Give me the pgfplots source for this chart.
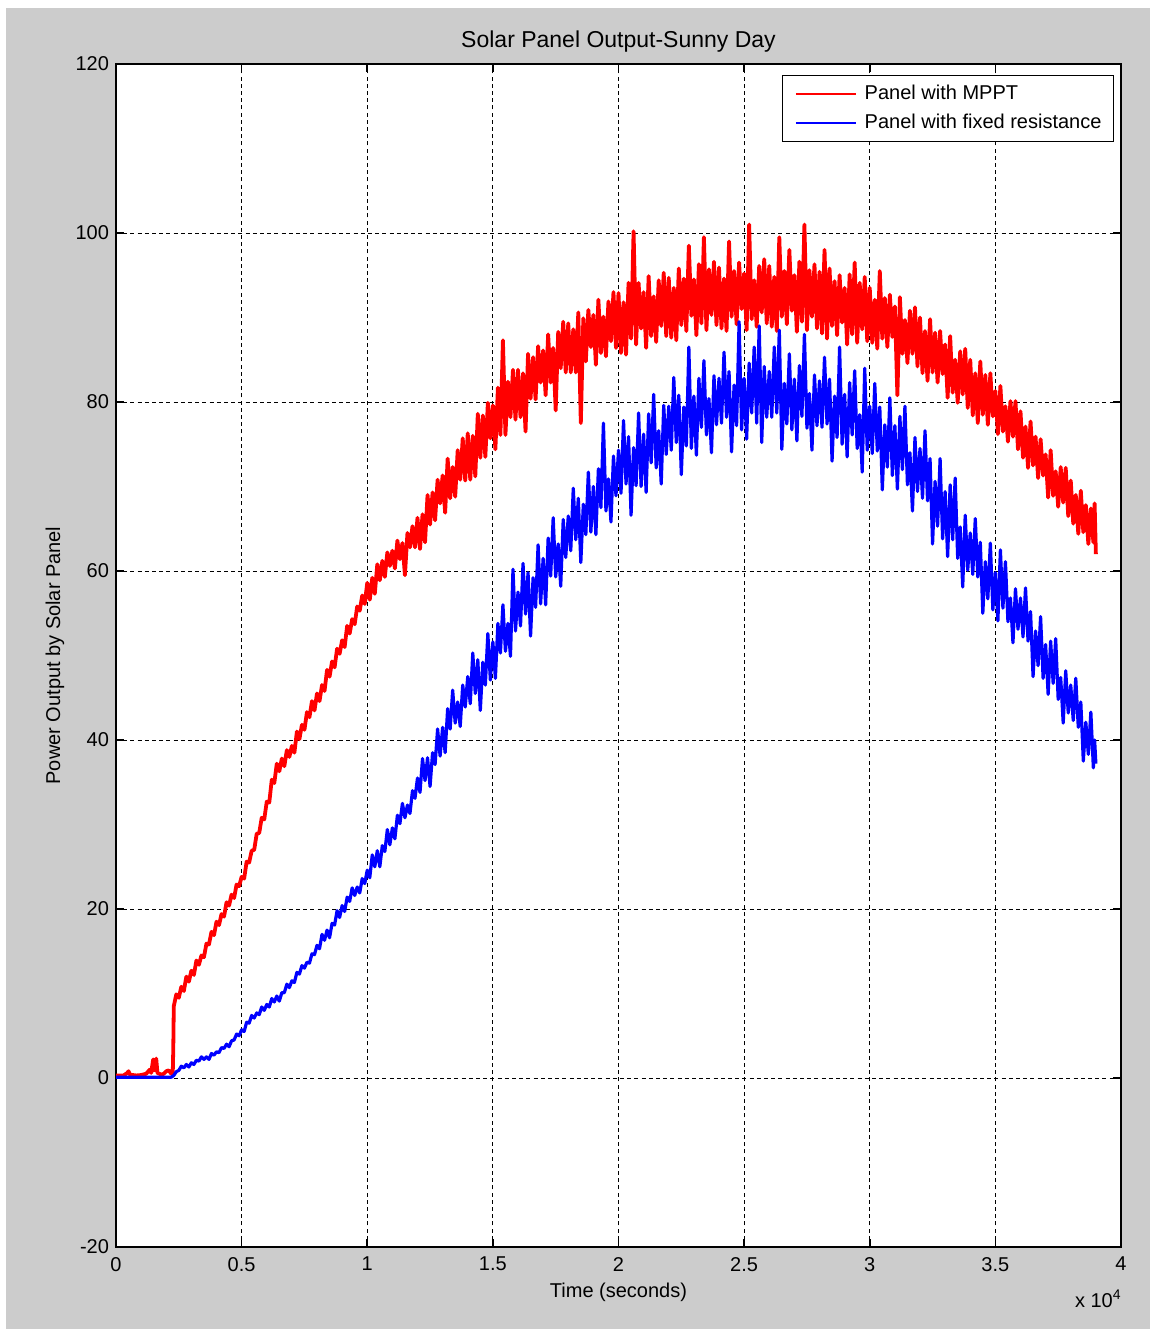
\documentclass[border=0pt]{standalone}
\usepackage{pgfplots}
\pgfplotsset{compat=1.18}
\usepackage{fontspec}
\setmainfont{Liberation Sans}
\definecolor{figgray}{RGB}{204,204,204}
\begin{document}
\begin{tikzpicture}
% figure window background
\fill[white] (0,0) rectangle (575pt,664.5pt);
\fill[figgray] (3pt,0) rectangle (575pt,660.5pt);
\begin{axis}[
  name=ax,
  at={(58pt,41pt)}, anchor=south west,
  scale only axis, width=502.5pt, height=591.5pt,
  xmin=0, xmax=40000, ymin=-20, ymax=120,
  xtick={0,5000,...,40000},
  xticklabels={0,0.5,1,1.5,2,2.5,3,3.5,4},
  scaled x ticks=false,
  ytick={-20,0,...,120},
  tick align=inside, tick pos=both, major tick length=4pt,
  grid=major,
  major grid style={black, line width=0.45pt, dash pattern=on 2pt off 1.6pt},
  axis line style={black, line width=0.8pt},
  every tick/.style={black, line width=0.8pt},
  axis background/.style={fill=white},
  /pgf/number format/assume math mode=true,
  tick label style={font=\fontsize{10}{12}\selectfont},
  xticklabel style={yshift=-1.5pt},
  label style={font=\fontsize{10}{12}\selectfont},
  title={Solar Panel Output-Sunny Day},
  every axis title shift=0pt,
  title style={font=\fontsize{11.5}{13}\selectfont, at={(0.5,1)}, anchor=base, yshift=8pt, inner sep=0pt},
  xlabel={Time (seconds)},
  xlabel style={at={(axis description cs:0.5,0)}, anchor=base, yshift=-25pt, inner sep=0pt},
  ylabel={Power Output by Solar Panel},
  ylabel style={at={(axis description cs:-0.051,0.5)}, anchor=south, inner sep=0pt},
  legend style={at={(1,1)}, anchor=north east, xshift=-3.5pt, yshift=-5.5pt,
    draw=black, line width=0.5pt, fill=white,
    font=\fontsize{10}{12}\selectfont, inner xsep=4pt, inner ysep=3pt,
    row sep=1.5pt, cells={anchor=west}},
  legend image code/.code={\path (-1.5pt,0pt) (31.5pt,0pt);
    \draw[#1, line width=1pt] (0pt,0pt) -- (30pt,0pt);},
  legend cell align=left,
]
% Panel with MPPT
\addplot[red, line width=1.9pt, line join=round] coordinates {
(0,0.3)(300,0.3)(450,0.6)(500,0.8)(550,0.4)(800,0.3)(1000,0.35)(1200,0.5)(1350,1.0)(1400,0.6)
(1480,2.2)(1520,0.9)(1560,1.0)(1600,2.3)(1650,0.6)(1800,0.4)(1900,0.5)(2000,0.8)(2100,0.9)(2200,0.5)
(2260,0.7)(2280,3.5)(2300,8.5)(2350,9.2)
(2400,9.9)(2500,9.5)(2600,10.8)(2700,10.3)(2800,12.0)(2900,11.4)
(3000,12.7)(3100,12.2)(3200,13.9)(3300,13.4)(3400,14.5)(3500,14.3)(3600,15.9)(3700,15.8)(3800,17.3)(3900,16.9)
(4000,18.5)(4100,18.1)(4200,19.4)(4300,19.1)(4400,20.8)(4500,20.4)(4600,21.7)(4700,21.3)(4800,22.9)(4900,22.7)
(5000,23.8)(5100,23.6)(5200,25.6)(5300,25.5)(5400,26.9)(5500,27.0)(5600,28.9)(5700,29.0)(5800,30.8)(5900,30.6)
(6000,32.7)(6100,32.6)(6200,35.3)(6300,34.9)(6400,37.2)(6500,36.3)(6600,37.8)(6700,36.9)(6800,38.8)(6900,38.0)
(7000,39.3)(7100,38.5)(7200,41.0)(7300,40.1)(7400,41.8)(7500,41.2)(7600,43.3)(7700,42.7)(7800,44.6)(7900,43.5)
(8000,45.5)(8100,44.6)(8200,46.5)(8300,45.8)(8400,48.3)(8500,47.5)(8600,49.3)(8700,48.6)(8800,50.8)(8900,50.2)
(9000,51.8)(9100,51.0)(9200,53.5)(9300,52.6)(9400,54.3)(9500,53.7)(9600,55.8)(9700,55.3)(9800,57.1)(9900,56.1)
(10000,58.6)(10100,56.6)(10200,59.2)(10300,57.3)(10400,60.8)(10500,58.9)(10600,61.2)(10700,59.3)(10800,62.2)(10900,60.6)
(11000,62.4)(11100,60.3)(11200,63.6)(11300,61.4)(11400,63.3)(11500,59.5)(11600,64.5)(11700,62.8)(11800,65.3)(11900,62.8)
(12000,66.3)(12100,62.6)(12200,66.7)(12300,63.4)(12400,69.0)(12500,65.5)(12600,69.3)(12700,66.0)(12800,70.8)(12900,68.0)
(13000,71.3)(13100,66.9)(13200,73.3)(13300,68.6)(13400,72.3)(13500,68.8)(13600,74.3)(13700,70.8)(13800,75.7)(13900,70.7)
(14000,76.3)(14100,70.8)(14200,76.0)(14300,71.2)(14400,78.6)(14500,73.4)(14600,78.4)(14700,73.5)(14800,79.9)(14900,75.7)
(15000,79.6)(15100,74.4)(15200,81.7)(15300,76.1)(15400,87.3)(15500,76.1)(15600,82.4)(15700,78.2)(15800,83.8)(15900,77.9)
(16000,83.8)(16100,78.2)(16200,83.4)(16300,76.5)(16400,85.7)(16500,80.4)(16600,85.3)(16700,80.3)(16800,86.6)(16900,82.3)
(17000,86.1)(17100,80.8)(17200,88.0)(17300,82.3)(17400,86.4)(17500,79.0)(17600,88.3)(17700,84.0)(17800,89.5)(17900,83.5)
(18000,89.3)(18100,83.5)(18200,88.6)(18300,83.5)(18400,90.6)(18500,77.5)(18600,89.9)(18700,84.8)(18800,90.9)(18900,86.5)
(19000,90.3)(19100,84.4)(19200,92.1)(19300,85.8)(19400,90.1)(19500,85.4)(19600,91.9)(19700,87.2)(19800,93.0)(19900,86.4)
(20000,92.9)(20100,85.8)(20200,91.8)(20300,85.6)(20400,94.1)(20500,87.5)(20600,100.2)(20700,86.8)(20800,94.1)(20900,88.7)
(21000,93.0)(21100,86.4)(21200,94.9)(21300,87.8)(21400,92.5)(21500,87.1)(21600,94.4)(21700,89.0)(21800,95.3)(21900,87.8)
(22000,94.7)(22100,87.6)(22200,93.5)(22300,87.3)(22400,95.8)(22500,89.1)(22600,94.6)(22700,88.4)(22800,98.5)(22900,90.2)
(23000,94.5)(23100,87.9)(23200,96.3)(23300,89.3)(23400,99.5)(23500,88.5)(23600,95.7)(23700,90.3)(23800,96.6)(23900,89.1)
(24000,95.9)(24100,88.7)(24200,94.6)(24300,88.4)(24400,99.0)(24500,90.1)(24600,95.5)(24700,89.2)(24800,96.5)(24900,91.0)
(25000,95.2)(25100,88.5)(25200,101.0)(25300,89.8)(25400,94.4)(25500,88.9)(25600,96.1)(25700,90.6)(25800,96.9)(25900,89.3)
(26000,96.1)(26100,88.9)(26200,94.8)(26300,88.4)(26400,99.5)(26500,90.1)(26600,95.5)(26700,89.2)(26800,98.0)(26900,90.8)
(27000,95.0)(27100,88.3)(27200,96.6)(27300,89.5)(27400,101.0)(27500,88.5)(27600,95.6)(27700,90.1)(27800,96.3)(27900,88.7)
(28000,95.4)(28100,88.1)(28200,98.0)(28300,87.5)(28400,95.8)(28500,89.0)(28600,94.3)(28700,87.9)(28800,95.0)(28900,89.4)
(29000,93.5)(29100,86.8)(29200,95.1)(29300,88.0)(29400,96.5)(29500,87.0)(29600,94.1)(29700,88.6)(29800,94.8)(29900,87.2)
(30000,93.5)(30100,87.0)(30200,92.1)(30300,86.3)(30400,95.5)(30500,87.5)(30600,92.3)(30700,86.5)(30800,92.7)(30900,87.7)
(31000,91.3)(31100,80.8)(31200,92.4)(31300,85.7)(31400,89.7)(31500,84.6)(31600,90.8)(31700,85.7)(31800,91.2)(31900,84.2)
(32000,90.0)(32100,83.4)(32200,88.4)(32300,82.5)(32400,89.8)(32500,83.5)(32600,88.2)(32700,82.3)(32800,88.4)(32900,83.3)
(33000,86.8)(33100,80.5)(33200,87.8)(33300,81.1)(33400,85.0)(33500,79.9)(33600,86.0)(33700,80.9)(33800,86.3)(33900,79.3)
(34000,85.0)(34100,78.4)(34200,83.4)(34300,77.5)(34400,84.8)(34500,78.5)(34600,83.2)(34700,77.3)(34800,83.4)(34900,78.3)
(35000,81.3)(35100,76.2)(35200,81.9)(35300,76.5)(35400,79.5)(35500,75.3)(35600,80.1)(35700,75.9)(35800,80.1)(35900,74.4)
(36000,78.9)(36100,73.4)(36200,77.1)(36300,72.2)(36400,77.7)(36500,72.5)(36600,75.9)(36700,71.0)(36800,75.6)(36900,71.3)
(37000,73.8)(37100,68.7)(37200,74.3)(37300,68.9)(37400,71.8)(37500,67.6)(37600,72.3)(37700,68.1)(37800,72.2)(37900,66.5)
(38000,70.7)(38100,65.6)(38200,69.0)(38300,64.4)(38400,69.5)(38500,64.6)(38600,67.8)(38700,63.2)(38800,67.4)(38900,63.4)
(38950,68.0)(39000,62.0)
};
% Panel with fixed resistance
\addplot[blue, line width=1.6pt, line join=round] coordinates {
(0,0.1)(1000,0.1)(2200,0.1)(2300,0.3)
(2400,0.75)(2500,0.9)(2600,1.4)(2700,1.2)(2800,1.6)(2900,1.3)
(3000,1.8)(3100,1.6)(3200,2.1)(3300,2.0)(3400,2.5)(3500,2.2)(3600,2.5)(3700,2.2)(3800,2.9)(3900,2.7)
(4000,3.1)(4100,3.0)(4200,3.6)(4300,3.5)(4400,4.0)(4500,3.7)(4600,4.4)(4700,4.5)(4800,5.2)(4900,5.0)
(5000,5.7)(5100,5.5)(5200,6.6)(5300,6.5)(5400,7.4)(5500,7.1)(5600,7.7)(5700,7.5)(5800,8.4)(5900,8.0)
(6000,8.7)(6100,8.4)(6200,9.4)(6300,9.0)(6400,9.7)(6500,9.1)(6600,10.1)(6700,10.1)(6800,11.1)(6900,10.7)
(7000,11.5)(7100,11.3)(7200,12.5)(7300,12.3)(7400,13.3)(7500,13.0)(7600,13.7)(7700,13.6)(7800,14.7)(7900,14.6)
(8000,15.7)(8100,15.3)(8200,17.0)(8300,16.3)(8400,17.5)(8500,16.6)(8600,18.3)(8700,18.1)(8800,19.8)(8900,19.0)
(9000,20.4)(9100,19.7)(9200,21.4)(9300,20.9)(9400,22.5)(9500,21.6)(9600,22.6)(9700,21.9)(9800,23.6)(9900,23.0)
(10000,24.6)(10100,23.7)(10200,26.4)(10300,25.0)(10400,26.9)(10500,25.0)(10600,27.5)(10700,26.8)(10800,29.4)(10900,27.6)
(11000,29.6)(11100,28.3)(11200,31.1)(11300,30.1)(11400,32.5)(11500,30.8)(11600,32.3)(11700,31.3)(11800,34.0)(11900,33.1)
(12000,35.5)(12100,33.8)(12200,37.8)(12300,35.2)(12400,37.9)(12500,34.5)(12600,38.5)(12700,37.1)(12800,41.3)(12900,38.1)
(13000,41.5)(13100,38.5)(13200,43.7)(13300,41.3)(13400,45.9)(13500,42.0)(13600,44.5)(13700,41.6)(13800,46.5)(13900,43.9)
(14000,47.5)(14100,44.3)(14200,50.3)(14300,45.5)(14400,49.5)(14500,43.5)(14600,49.2)(14700,46.5)(14800,52.6)(14900,47.1)
(15000,51.6)(15100,47.3)(15200,53.8)(15300,50.3)(15400,56.0)(15500,50.5)(15600,53.8)(15700,49.9)(15800,60.2)(15900,52.9)
(16000,57.5)(16100,53.5)(16200,60.9)(16300,54.9)(16400,59.8)(16500,52.3)(16600,59.2)(16700,55.7)(16800,63.1)(16900,56.1)
(17000,61.5)(17100,56.0)(17200,63.9)(17300,59.4)(17400,66.3)(17500,59.3)(17600,63.2)(17700,58.2)(17800,66.1)(17900,61.6)
(18000,66.5)(18100,62.4)(18200,69.8)(18300,63.7)(18400,68.6)(18500,61.0)(18600,67.9)(18700,64.3)(18800,71.7)(18900,64.6)
(19000,70.0)(19100,64.3)(19200,72.1)(19300,67.5)(19400,77.5)(19500,67.1)(19600,70.9)(19700,65.8)(19800,73.6)(19900,68.9)
(20000,74.3)(20100,69.2)(20200,77.8)(20300,70.3)(20400,75.9)(20500,66.6)(20600,74.6)(20700,70.1)(20800,78.7)(20900,70.0)
(21000,76.2)(21100,69.3)(21200,78.6)(21300,72.8)(21400,80.9)(21500,72.2)(21600,76.6)(21700,70.3)(21800,79.6)(21900,73.8)
(22000,79.5)(22100,74.3)(22200,82.9)(22300,75.2)(22400,80.8)(22500,71.4)(22600,79.4)(22700,74.8)(22800,86.5)(22900,74.5)
(23000,80.7)(23100,73.7)(23200,82.8)(23300,77.0)(23400,84.9)(23500,76.1)(23600,80.4)(23700,74.0)(23800,83.1)(23900,77.3)
(24000,82.8)(24100,77.5)(24200,85.9)(24300,78.2)(24400,83.6)(24500,74.1)(24600,82.0)(24700,77.2)(24800,89.5)(24900,76.7)
(25000,82.8)(25100,75.6)(25200,84.6)(25300,78.7)(25400,86.5)(25500,77.5)(25600,89.0)(25700,75.2)(25800,84.2)(25900,78.2)
(26000,83.6)(26100,78.2)(26200,86.5)(26300,78.7)(26400,88.5)(26500,74.4)(26600,82.2)(26700,77.4)(26800,85.7)(26900,76.7)
(27000,82.7)(27100,75.4)(27200,84.3)(27300,78.3)(27400,88.0)(27500,76.9)(27600,81.0)(27700,74.3)(27800,83.2)(27900,77.2)
(28000,82.5)(28100,77.0)(28200,85.3)(28300,77.4)(28400,82.7)(28500,73.0)(28600,80.7)(28700,75.8)(28800,86.5)(28900,75.0)
(29000,80.9)(29100,73.5)(29200,82.3)(29300,76.1)(29400,83.7)(29500,74.5)(29600,78.5)(29700,71.7)(29800,84.0)(29900,74.3)
(30000,79.5)(30100,73.9)(30200,82.2)(30300,74.2)(30400,79.4)(30500,69.6)(30600,77.3)(30700,72.3)(30800,80.5)(30900,71.3)
(31000,77.2)(31100,69.7)(31200,78.3)(31300,72.0)(31400,79.5)(31500,70.2)(31600,74.0)(31700,67.1)(31800,75.8)(31900,69.4)
(32000,74.5)(32100,68.6)(32200,76.6)(32300,68.3)(32400,73.3)(32500,63.2)(32600,70.6)(32700,65.3)(32800,73.3)(32900,63.8)
(33000,69.4)(33100,61.7)(33200,70.2)(33300,63.7)(33400,71.0)(33500,61.5)(33600,65.2)(33700,58.1)(33800,66.6)(33900,60.1)
(34000,64.5)(34100,59.6)(34200,66.2)(34300,59.3)(34400,63.4)(34500,55.0)(34600,61.1)(34700,56.7)(34800,63.3)(34900,55.4)
(35000,59.8)(35100,54.1)(35200,62.5)(35300,55.6)(35400,61.1)(35500,54.0)(35600,56.8)(35700,51.5)(35800,57.9)(35900,53.1)
(36000,56.8)(36100,52.2)(36200,58.0)(36300,51.7)(36400,55.2)(36500,47.5)(36600,52.9)(36700,48.8)(36800,54.6)(36900,47.3)
(37000,51.3)(37100,45.4)(37200,51.7)(37300,46.7)(37400,52.0)(37500,44.8)(37600,47.4)(37700,42.0)(37800,48.2)(37900,43.2)
(38000,46.5)(38100,42.3)(38200,47.3)(38300,41.5)(38400,44.5)(38500,37.5)(38600,42.1)(38700,38.3)(38800,43.3)(38900,36.7)
(38950,40.0)(39000,37.2)
};
\legend{Panel with MPPT, Panel with fixed resistance}
\end{axis}
% scale factor of the time axis
\node[anchor=base east, font=\fontsize{10}{12}\selectfont, inner sep=0pt]
  at ([yshift=-30.5pt]ax.south east) {x 10\raisebox{0.85ex}{\fontsize{7}{8}\selectfont 4}};
\end{tikzpicture}
\end{document}
